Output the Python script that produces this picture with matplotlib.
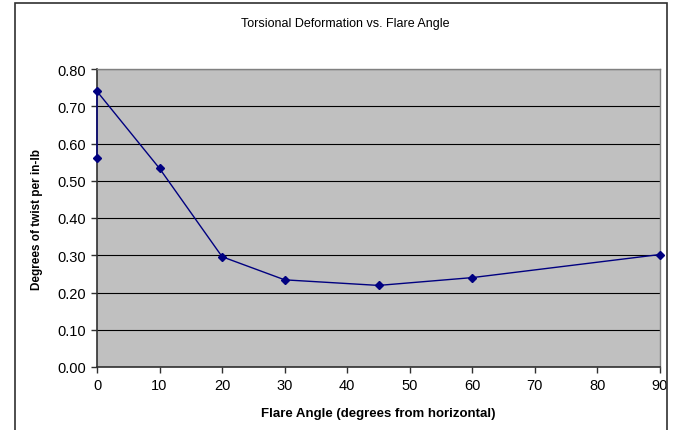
import matplotlib.pyplot as plt
from matplotlib.patches import Rectangle

plt.rcParams['font.family'] = ['Liberation Sans', 'DejaVu Sans']

# data
flare_angle = [0, 0, 10, 20, 30, 45, 60, 90]
twist = [0.56, 0.74, 0.533, 0.296, 0.234, 0.219, 0.240, 0.302]

x_ticks = [0, 10, 20, 30, 40, 50, 60, 70, 80, 90]
y_ticks = [0.0, 0.1, 0.2, 0.3, 0.4, 0.5, 0.6, 0.7, 0.8]

fig = plt.figure(figsize=(6.76, 4.31), dpi=100)
ax = fig.add_axes([97 / 676, 63 / 431, 563 / 676, 298 / 431])

# outer chart frame
fig.patches.append(Rectangle((15 / 676, -0.05), 652 / 676, 1.05 - 4 / 431,
                             transform=fig.transFigure, fill=False,
                             edgecolor='#303030', linewidth=1.2))

ax.set_facecolor('#c0c0c0')
ax.plot(flare_angle, twist, color='#000080', linewidth=1.0,
        marker='D', markersize=4.5, markerfacecolor='#000080',
        markeredgecolor='#000080', clip_on=False, zorder=3)

ax.set_xlim(0, 90)
ax.set_ylim(0, 0.8)
ax.set_xticks(x_ticks)
ax.set_yticks(y_ticks)
ax.set_yticklabels([f"{v:.2f}" for v in y_ticks])
ax.grid(axis='y', color='black', linewidth=0.8)
ax.set_axisbelow(True)

for s in ['top', 'right']:
    ax.spines[s].set_color('#808080')
    ax.spines[s].set_linewidth(1.0)
for s in ['left', 'bottom']:
    ax.spines[s].set_color('#303030')
    ax.spines[s].set_linewidth(1.2)

ax.tick_params(axis='both', direction='out', length=4, width=1,
               color='#303030', labelsize=10.5, pad=4)

fig.text(345 / 676, 1 - 24 / 431, 'Torsional Deformation vs. Flare Angle',
         fontsize=9, ha='center', va='center')
ax.set_xlabel('Flare Angle (degrees from horizontal)', fontsize=9.5,
              fontweight='bold', labelpad=11)
ax.set_ylabel('Degrees of twist per in-lb', fontsize=8.5,
              fontweight='bold', labelpad=10)

fig.savefig('out.png', dpi=100)
